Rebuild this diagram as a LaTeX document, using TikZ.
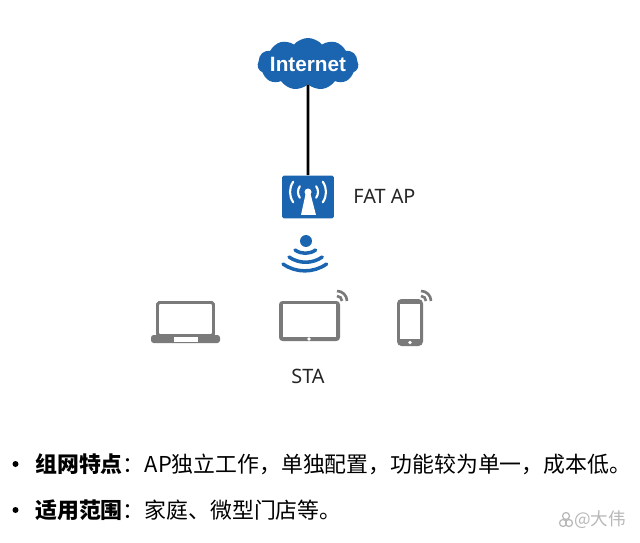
\documentclass[tikz,border=0pt]{standalone}
\usepackage{fontspec}
\usepackage{xcolor}
\setmainfont{Noto Sans CJK SC}
\newfontfamily\latinfont{Noto Sans}
\newfontfamily\cloudfont{Liberation Sans}
\usetikzlibrary{shapes.symbols}
\definecolor{apblue}{HTML}{1B65B0}
\definecolor{stagray}{HTML}{7A7A7A}
\tikzset{
  label text/.style={font=\latinfont\fontsize{11.3}{13}\selectfont, text=black!85},
  line text/.style={anchor=west, font=\fontsize{12.45}{15}\selectfont, text=black, inner sep=0pt},
  wifi arc/.style={draw=apblue, line width=2pt, line cap=round},
  sta arc/.style={draw=stagray, line width=1.5pt},
  sta body/.style={draw=stagray, fill=white, line width=1.7pt, rounded corners=1pt},
  ap wave/.style={draw=white, line width=1.2pt, line cap=round}
}
\begin{document}
\begin{tikzpicture}[x=0.02cm, y=0.02cm]
\useasboundingbox (0,0) rectangle (640,542);

%% internet
\node[cloud, cloud puffs=11, cloud puff arc=100, aspect=2, fill=apblue, inner sep=0pt,
      minimum width=2.02cm, minimum height=1.04cm] (internet) at (308,478) {};
\node[text=white, inner sep=0pt, font=\cloudfont\bfseries\fontsize{11.8}{14}\selectfont] (internetlabel) at (308,478) {Internet};

%% ap
\node[fill=apblue, rounded corners=1pt, minimum width=1.04cm, minimum height=0.86cm, inner sep=0pt] (ap) at (308,345) {};
\draw[line width=1.6pt] (internet.south) -- (ap.north);
\node[label text, anchor=west, inner sep=0pt] (aplabel) at (353,346) {FAT AP};

%% antenne
\fill[white] (301,327) -- (306,350) -- (310,350) -- (316,327) -- cycle;
\fill[white] (308,350) circle (3.5);
\draw[ap wave] (308,350) ++(145:10) arc(145:215:10);
\draw[ap wave] (308,350) ++(35:10) arc(35:-35:10);
\draw[ap wave] (308,350) ++(145:18) arc(145:215:18);
\draw[ap wave] (308,350) ++(35:18) arc(35:-35:18);

%% ondes
\fill[apblue] (306,301) circle (6);
\draw[wifi arc] (295,292) arc(235:305:18);
\draw[wifi arc] (289,285) arc(235:305:29);
\draw[wifi arc] (283,278) arc(235:305:38);

%% portable
\node[sta body, minimum width=1.12cm, minimum height=0.66cm, inner sep=0pt] (laptop) at (185.5,223) {};
\fill[stagray, rounded corners=1.5pt] (151,199) rectangle (220,207);
\fill[white] (174,200.5) rectangle (198,205);

%% tablette
\fill[stagray, rounded corners=2pt] (279,201) rectangle (340,241);
\fill[white] (283,205) rectangle (336,238);
\node[fill=white, circle, inner sep=0pt, minimum size=2pt] (tabletdot) at (309,203) {};
\draw[sta arc] (337,246) arc(90:0:5);
\draw[sta arc] (337,251) arc(90:0:10);

%% telephone
\fill[stagray, rounded corners=2.5pt] (397,196) rectangle (423,243);
\fill[white] (400,203) rectangle (420,238);
\node[fill=white, circle, inner sep=0pt, minimum size=2.2pt] (phonedot) at (410,199.5) {};
\draw[sta arc] (421,246) arc(90:0:5);
\draw[sta arc] (421,251) arc(90:0:10);

\node[label text] (sta) at (308,166) {STA};

%% texte
\fill[black] (15.5,78) circle (3);
\fill[black] (15.5,32) circle (3);
\node[line text] (line1) at (35,78) {\textbf{组网特点}：AP独立工作，单独配置，功能较为单一，成本低。};
\node[line text] (line2) at (35,32) {\textbf{适用范围}：家庭、微型门店等。};

%% filigrane
\node[anchor=west, inner sep=0pt, text=black!28, font=\fontsize{10}{12}\selectfont] (mark) at (574,22) {@大伟};
\draw[black!28, line width=0.7pt] (566,26) circle (3.5);
\draw[black!28, line width=0.7pt] (563,19) circle (3.5);
\draw[black!28, line width=0.7pt] (569,19) circle (3.5);

\end{tikzpicture}
\end{document}
